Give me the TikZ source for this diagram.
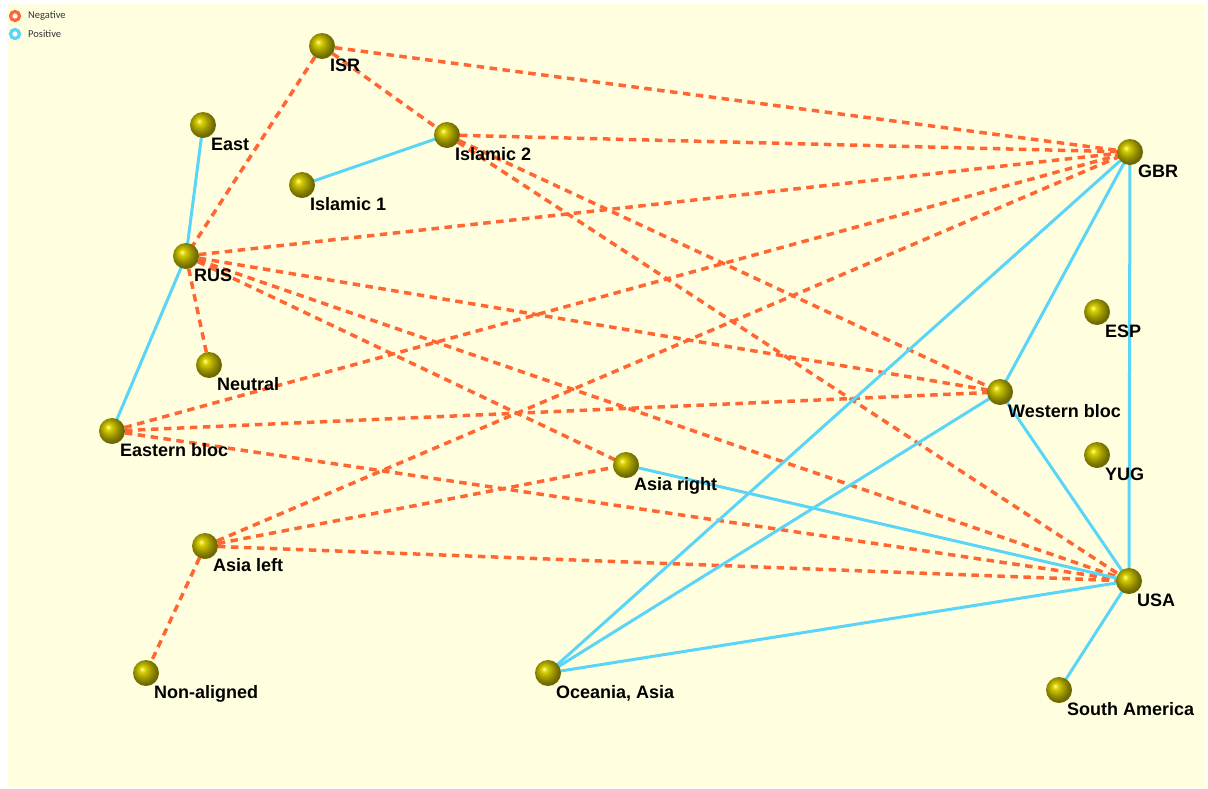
\documentclass[tikz,border=0pt]{standalone}
\usepackage{fontspec}
\setmainfont{Liberation Sans}
\newfontfamily\legendfont{Carlito}
\usetikzlibrary{calc}
\pgfdeclarelayer{bg}
\pgfdeclarelayer{edges}
\pgfsetlayers{bg,edges,main}
\definecolor{negc}{RGB}{255,102,51}
\definecolor{posc}{RGB}{90,213,248}
\definecolor{paper}{RGB}{255,255,224}
\definecolor{ballhi}{RGB}{255,255,150}
\definecolor{ballmid}{RGB}{214,206,0}
\definecolor{balldk}{RGB}{150,143,0}
\definecolor{balldkk}{RGB}{110,105,0}
\pgfdeclareradialshading{olball}{\pgfqpoint{-8bp}{8bp}}{%
  color(0bp)=(ballhi); color(6bp)=(ballmid); color(17bp)=(balldk); color(25bp)=(balldkk); color(50bp)=(balldkk)}
\tikzset{
  ballnode/.style={circle, minimum size=26pt, inner sep=0pt, shading=olball},
  lbl/.style={anchor=base west, inner sep=0pt, font=\bfseries\fontsize{18pt}{18pt}\selectfont, text=black},
  negedge/.style={draw=negc, line width=3.5pt, dash pattern=on 7.5pt off 5.5pt},
  posedge/.style={draw=posc, line width=3pt},
  legring/.style={circle, draw=#1, line width=3.2pt, fill=white, minimum size=9pt, inner sep=0pt},
  legtext/.style={anchor=west, inner sep=0pt, font=\legendfont\fontsize{10.5pt}{10.5pt}\selectfont, text=black!80}
}
\begin{document}
\begin{tikzpicture}[x=1pt,y=-1pt]
\useasboundingbox (0,0) rectangle (1208,788);
\begin{pgfonlayer}{bg}
\fill[paper] (8,4) rectangle (1205,787);
\end{pgfonlayer}

% legend
\node[legring=negc] (lneg) at (15,16) {};
\node[legtext] (lnegt) at (28,16) {Negative};
\node[legring=posc] (lpos) at (15,34) {};
\node[legtext] (lpost) at (28,34) {Positive};

% nodes
\node[ballnode] (isr) at (322,46) {};
\node[ballnode] (east) at (203,125) {};
\node[ballnode] (isl2) at (447,135) {};
\node[ballnode] (isl1) at (302,185) {};
\node[ballnode] (gbr) at (1130,152) {};
\node[ballnode] (rus) at (186,256) {};
\node[ballnode] (esp) at (1097,312) {};
\node[ballnode] (neutral) at (209,365) {};
\node[ballnode] (wb) at (1000,392) {};
\node[ballnode] (eb) at (112,431) {};
\node[ballnode] (yug) at (1097,455) {};
\node[ballnode] (ar) at (626,465) {};
\node[ballnode] (al) at (205,546) {};
\node[ballnode] (usa) at (1129,581) {};
\node[ballnode] (na) at (146,673) {};
\node[ballnode] (oa) at (548,673) {};
\node[ballnode] (sa) at (1059,690) {};

% labels
\node[lbl] (isr-l) at ([shift={(8,25)}]isr.center) {ISR};
\node[lbl] (east-l) at ([shift={(8,25)}]east.center) {East};
\node[lbl] (isl2-l) at ([shift={(8,25)}]isl2.center) {Islamic 2};
\node[lbl] (isl1-l) at ([shift={(8,25)}]isl1.center) {Islamic 1};
\node[lbl] (gbr-l) at ([shift={(8,25)}]gbr.center) {GBR};
\node[lbl] (rus-l) at ([shift={(8,25)}]rus.center) {RUS};
\node[lbl] (esp-l) at ([shift={(8,25)}]esp.center) {ESP};
\node[lbl] (neutral-l) at ([shift={(8,25)}]neutral.center) {Neutral};
\node[lbl] (wb-l) at ([shift={(8,25)}]wb.center) {Western bloc};
\node[lbl] (eb-l) at ([shift={(8,25)}]eb.center) {Eastern bloc};
\node[lbl] (yug-l) at ([shift={(8,25)}]yug.center) {YUG};
\node[lbl] (ar-l) at ([shift={(8,25)}]ar.center) {Asia right};
\node[lbl] (al-l) at ([shift={(8,25)}]al.center) {Asia left};
\node[lbl] (usa-l) at ([shift={(8,25)}]usa.center) {USA};
\node[lbl] (na-l) at ([shift={(8,25)}]na.center) {Non-aligned};
\node[lbl] (oa-l) at ([shift={(8,25)}]oa.center) {Oceania, Asia};
\node[lbl] (sa-l) at ([shift={(8,25)}]sa.center) {South America};

\begin{pgfonlayer}{edges}
% negative
\draw[negedge] (isr.center) -- (gbr.center);
\draw[negedge] (isr.center) -- (isl2.center);
\draw[negedge] (isr.center) -- (rus.center);
\draw[negedge] (isl2.center) -- (gbr.center);
\draw[negedge] (isl2.center) -- (wb.center);
\draw[negedge] (isl2.center) -- (usa.center);
\draw[negedge] (rus.center) -- (gbr.center);
\draw[negedge] (rus.center) -- (neutral.center);
\draw[negedge] (rus.center) -- (wb.center);
\draw[negedge] (rus.center) -- (usa.center);
\draw[negedge] (rus.center) -- (ar.center);
\draw[negedge] (eb.center) -- (gbr.center);
\draw[negedge] (eb.center) -- (wb.center);
\draw[negedge] (eb.center) -- (usa.center);
\draw[negedge] (al.center) -- (gbr.center);
\draw[negedge] (al.center) -- (ar.center);
\draw[negedge] (al.center) -- (usa.center);
\draw[negedge] (al.center) -- (na.center);
% positive
\draw[posedge] (east.center) -- (rus.center);
\draw[posedge] (rus.center) -- (eb.center);
\draw[posedge] (isl1.center) -- (isl2.center);
\draw[posedge] (gbr.center) -- (wb.center);
\draw[posedge] (gbr.center) -- (oa.center);
\draw[posedge] (gbr.center) -- (usa.center);
\draw[posedge] (wb.center) -- (usa.center);
\draw[posedge] (wb.center) -- (oa.center);
\draw[posedge] (ar.center) -- (usa.center);
\draw[posedge] (oa.center) -- (usa.center);
\draw[posedge] (usa.center) -- (sa.center);
\end{pgfonlayer}
\end{tikzpicture}
\end{document}
